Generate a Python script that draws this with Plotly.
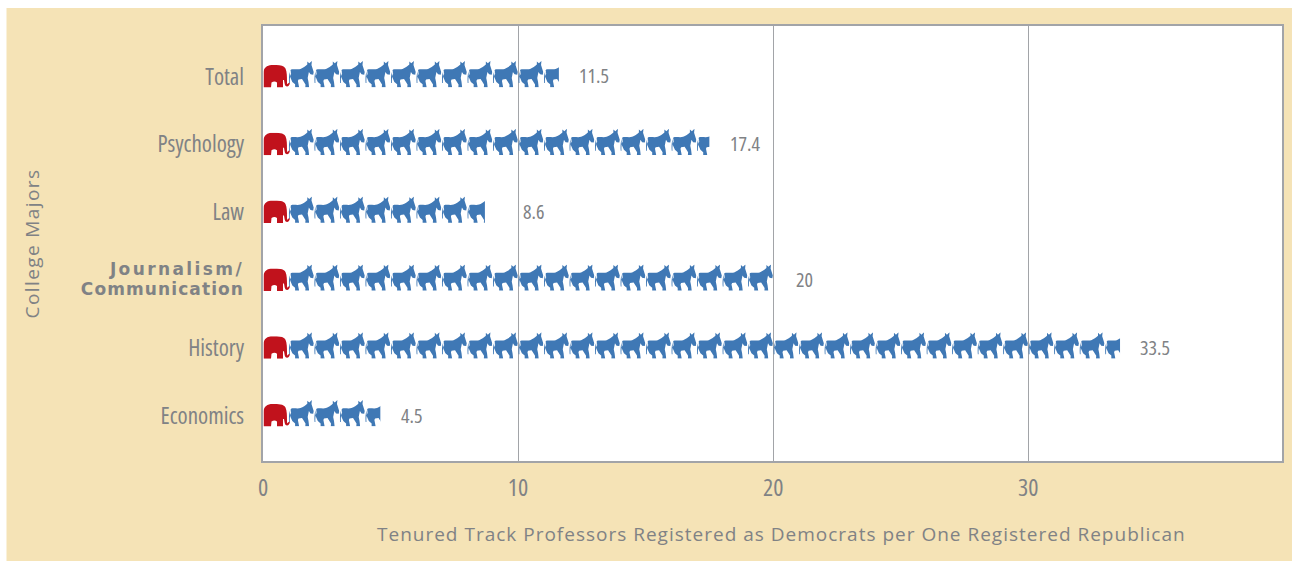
import base64
import math
import plotly.graph_objects as go

categories = ["Economics", "History", "Journalism/Communication", "Law", "Psychology", "Total"]
values = [4.5, 33.5, 20, 8.6, 17.4, 11.5]
x_ticks = [0, 10, 20, 30]
x_title = "Tenured Track Professors Registered as Democrats per One Registered Republican"
y_title = "College Majors"

GREY = "#808285"
LINE = "#a2a4a8"
BEIGE = "#f5e3b6"
RED = "#c1121c"
BLUE = "#3f78b5"


def narrow(text, size, weight=400, drop=0):
    shift = f"baseline-shift:-{drop}px;" if drop else ""
    return (f'<span style="font-family:\'Open Sans\';font-stretch:75%;font-size:{size}px;{shift}'
            f'font-weight:{weight}">{text}</span>')


def heavy(text, spacing):
    return (f'<span style="font-family:\'DejaVu Sans\';font-weight:bold;font-size:17px;'
            f'letter-spacing:{spacing}px">{text}</span>')


tick_labels = [
    narrow("Economics", 23, drop=3),
    narrow("History", 23, drop=3),
    heavy("Journalism/", 2.4) + "<br>" + heavy("Communication", 1.1),
    narrow("Law", 23, drop=3),
    narrow("Psychology", 23, drop=3),
    narrow("Total", 23, drop=3),
]

DONKEY = ("M2.5,8.6 C5,7.6 9,9 12,8 C14.5,7 17,5.2 18.8,3.6 L18.8,0.6 L20.8,2.4 L23.4,0 L23,4 L25.2,11 "
          "L24.7,13.8 L22,13.4 L20.4,11 C20,13 19.6,15 19.2,17 L20,21 L20.6,26.2 L16.8,26.2 L17,23.5 L14.8,20 "
          "L13.5,18 L10,18.5 L9.4,20 L10.6,26.2 L6.6,26.2 L6.6,23.4 L3.8,21 L1.8,16.4 C1.4,12.5 1.4,10.2 2.5,8.6 Z "
          "M2.2,9.5 C0.5,12 0.2,17 0.6,22 L1.4,22 C1.2,18 1.5,14 2.6,13 Z")
ELEPHANT = ("M0,8 C0,2.5 4,0 9,0 C15,0 20,0 22,3.5 C23.5,7 23.5,12 23.5,16 C23.5,19.5 24,20 25,18 L26.5,17.5 "
            "C26,22.5 21.5,23 21,18 L20.5,15 L19.5,15 L19.5,22.5 L13.5,22.5 L13.5,17.5 Q11,15.5 8,17.5 "
            "L7.5,22.5 L0,22.5 Z")


def icon(path, color, w, h, frac=1.0):
    svg = (f'<svg xmlns="http://www.w3.org/2000/svg" width="{w * frac * 4:.1f}" height="{h * 4:.1f}" '
           f'viewBox="0 0 {w * frac:.3f} {h}" preserveAspectRatio="none"><path fill="{color}" d="{path}"/></svg>')
    return "data:image/svg+xml;base64," + base64.b64encode(svg.encode()).decode()


PX_X = 25.53
PX_Y = 67.9
images = []
for idx, v in enumerate(values):
    base = idx - 11.5 / PX_Y
    images.append(dict(source=icon(ELEPHANT, RED, 26.5, 22.5), xref="x", yref="y", x=0.02, y=base,
                       sizex=26.5 / PX_X, sizey=22.5 / PX_Y, xanchor="left", yanchor="bottom",
                       sizing="stretch", layer="above"))
    for i in range(1, math.ceil(v)):
        frac = min(1.0, v - i + 0.1)
        images.append(dict(source=icon(DONKEY, BLUE, PX_X, 26.5, frac), xref="x", yref="y", x=i, y=base,
                           sizex=frac, sizey=26.5 / PX_Y, xanchor="left", yanchor="bottom",
                           sizing="stretch", layer="above"))

fig = go.Figure(go.Bar(x=values, y=list(range(len(values))), orientation="h", customdata=categories,
                       marker=dict(color="rgba(0,0,0,0)", line=dict(width=0)),
                       hovertemplate="%{customdata}: %{x}<extra></extra>"))

annotations = [dict(x=v, y=i, xref="x", yref="y", text=narrow(str(v), 20), showarrow=False, xanchor="left",
                    xshift=39 if c == "Law" else 21, yshift=0, font=dict(family="Open Sans", size=20, color=GREY))
               for i, (v, c) in enumerate(zip(values, categories))]
annotations.append(dict(x=(782.5 - 263) / 1021, y=(461 - 534) / 435, xref="paper", yref="paper",
                        text=f'<span style="letter-spacing:1px">{x_title}</span>', showarrow=False,
                        xanchor="center", yanchor="middle", font=dict(family="Open Sans", size=19, color=GREY)))

fig.update_layout(
    width=1294, height=561, margin=dict(l=263, r=10, t=26, b=100), autosize=False,
    paper_bgcolor="white", plot_bgcolor="white", showlegend=False, images=images, annotations=annotations,
    shapes=[
        dict(type="rect", xref="paper", yref="paper", x0=(6 - 263) / 1021, x1=(1294 - 263) / 1021,
             y0=-100 / 435, y1=(461 - 8) / 435, fillcolor=BEIGE, line_width=0, layer="below"),
        dict(type="rect", xref="paper", yref="paper", x0=0, x1=1, y0=0, y1=1,
             fillcolor="white", line_width=0, layer="below"),
    ],
    xaxis=dict(range=[0, 39.95], tickvals=x_ticks, ticktext=[narrow(str(t), 24, 500) for t in x_ticks],
               showgrid=True, gridcolor=LINE, gridwidth=1, zeroline=False,
               showline=True, linecolor=LINE, linewidth=1.5, mirror=True,
               ticks="outside", ticklen=4, tickcolor="rgba(0,0,0,0)",
               tickfont=dict(family="Open Sans", size=24, color=GREY)),
    yaxis=dict(range=[-46 / PX_Y, 5 + 50 / PX_Y], tickvals=list(range(len(values))), ticktext=tick_labels,
               showgrid=False, zeroline=False, showline=True, linecolor=LINE, linewidth=1.5, mirror=True,
               ticks="outside", ticklen=14, tickcolor="rgba(0,0,0,0)",
               tickfont=dict(family="Open Sans", size=16, color=GREY),
               title=dict(text=f'<span style="letter-spacing:1.4px">{y_title}</span>',
                          font=dict(family="Open Sans", size=19, color=GREY), standoff=36)),
)
fig.write_html("out.html", config={"displayModeBar": False}, post_script="document.body.style.margin='0';")
